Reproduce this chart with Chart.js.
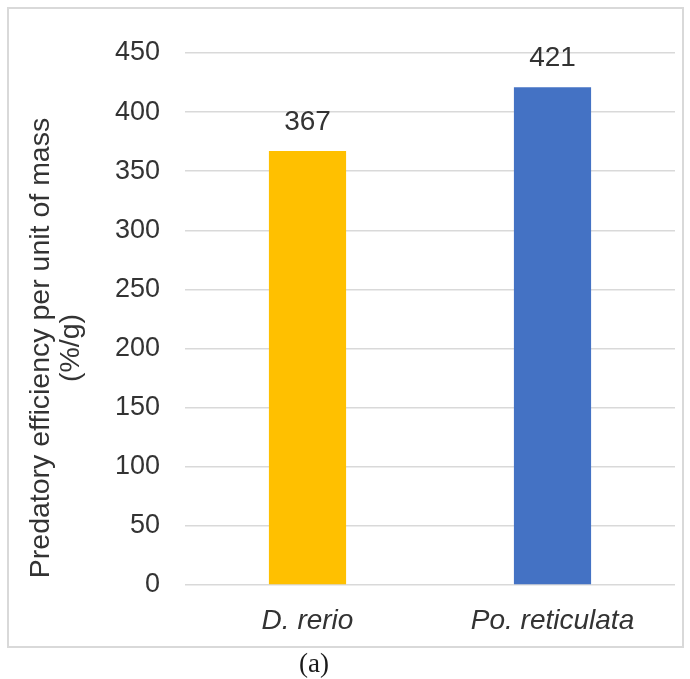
<!DOCTYPE html>
<html>
<head>
<meta charset="utf-8">
<script src="https://cdn.jsdelivr.net/npm/chart.js@4/dist/chart.umd.min.js"></script>
<style>
  html, body { margin: 0; padding: 0; background: #fff; }
  #wrap { position: relative; width: 690px; height: 679px; }
  #frame { position: absolute; left: 7px; top: 7px; width: 673px; height: 637px; border: 2px solid #d9d9d9; }
  #c { position: absolute; left: 0; top: 0; }
  #cap { position: absolute; left: 264px; width: 100px; top: 648px; text-align: center;
         font-family: "Liberation Serif", "Times New Roman", serif; font-size: 27px; color: #1a1a1a; }
</style>
</head>
<body>
<div id="wrap">
  <div id="frame"></div>
  <canvas id="c" width="690" height="650"></canvas>
  <div id="cap">(a)</div>
</div>
<script>
const species = ['D. rerio', 'Po. reticulata'];
const efficiency = [367, 421];
const barColors = ['#FFC000', '#4472C4'];
const yTitleLines = ['Predatory efficiency per unit of mass', '(%/g)'];

const textColor = '#333333';
const sans = '"Liberation Sans", Arial, sans-serif';

// Two-line rotated y-axis title, centred on the left margin
const yTitlePlugin = {
  id: 'yTitle',
  afterDraw(chart) {
    const ctx = chart.ctx;
    ctx.save();
    ctx.translate(56, 348);
    ctx.rotate(-Math.PI / 2);
    ctx.font = '28.5px ' + sans;
    ctx.fillStyle = textColor;
    ctx.textAlign = 'center';
    ctx.textBaseline = 'middle';
    ctx.fillText(yTitleLines[0], 0, -15);
    ctx.fillText(yTitleLines[1], 0, 15);
    ctx.restore();
  }
};

// Value labels above each bar
const valueLabels = {
  id: 'valueLabels',
  afterDatasetsDraw(chart) {
    const ctx = chart.ctx;
    const meta = chart.getDatasetMeta(0);
    ctx.save();
    ctx.font = '28px ' + sans;
    ctx.fillStyle = textColor;
    ctx.textAlign = 'center';
    ctx.textBaseline = 'middle';
    meta.data.forEach((bar, i) => {
      ctx.fillText(String(efficiency[i]), bar.x, bar.y - 29);
    });
    ctx.restore();
  }
};

new Chart(document.getElementById('c'), {
  type: 'bar',
  data: {
    labels: species,
    datasets: [{
      data: efficiency,
      backgroundColor: barColors,
      borderWidth: 0,
      categoryPercentage: 1,
      barPercentage: 0.315
    }]
  },
  options: {
    responsive: false,
    animation: false,
    layout: { padding: { top: 53, right: 15, left: 0, bottom: 0 } },
    plugins: { legend: { display: false }, tooltip: { enabled: false } },
    scales: {
      x: {
        grid: { display: false, drawTicks: false },
        border: { display: false },
        ticks: {
          color: textColor,
          padding: 19,
          font: { family: sans, size: 28, style: 'italic' }
        },
        afterFit(axis) { axis.height = 65; }
      },
      y: {
        min: 0,
        max: 450,
        grid: { color: '#d9d9d9', lineWidth: 1.5, drawTicks: false },
        border: { display: false },
        ticks: {
          stepSize: 50,
          color: textColor,
          padding: 25,
          font: { family: sans, size: 27 }
        },
        afterFit(axis) { axis.width = 185; }
      }
    }
  },
  plugins: [yTitlePlugin, valueLabels]
});
</script>
</body>
</html>
